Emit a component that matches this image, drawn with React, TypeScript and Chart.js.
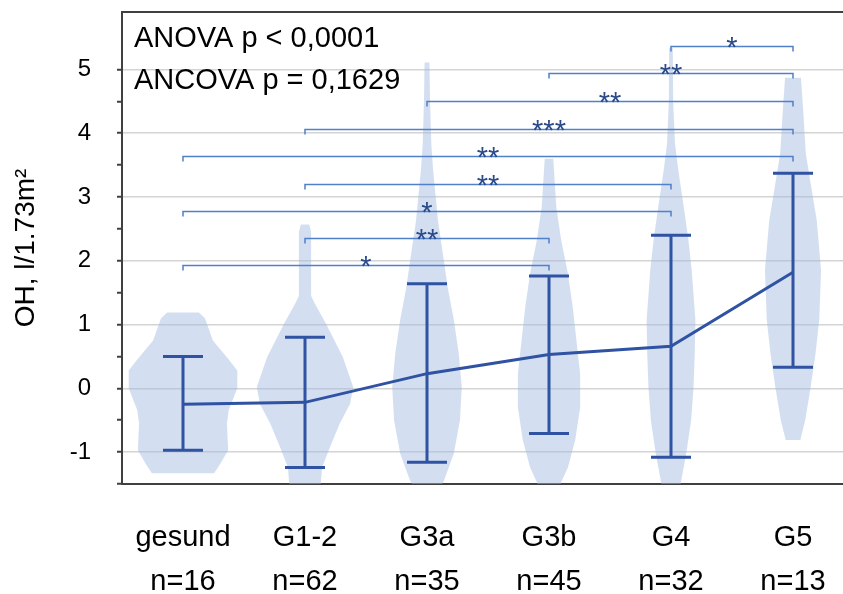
import React, { useEffect, useRef } from 'react';
import { Chart, registerables } from 'chart.js';

Chart.register(...registerables);

const FONT = "'Liberation Sans', Arial, sans-serif";

// Groups and sample sizes
const groups = ['gesund', 'G1-2', 'G3a', 'G3b', 'G4', 'G5'];
const groupSizes = ['n=16', 'n=62', 'n=35', 'n=45', 'n=32', 'n=13'];

// Mean and error bar limits per group (l/1.73m²)
const means = [-0.25, -0.22, 0.23, 0.53, 0.66, 1.82];
const upper = [0.5, 0.8, 1.64, 1.76, 2.4, 3.37];
const lower = [-0.97, -1.24, -1.16, -0.71, -1.08, 0.33];

// Violin density profiles: [value, relative density], from top to bottom
const densityGesund = [
  [1.19, 0.26], [1.1, 0.36], [0.75, 0.49], [0.45, 0.75], [0.28, 0.89], [0.0, 0.89],
  [-0.34, 0.75], [-0.55, 0.72], [-0.97, 0.74], [-1.17, 0.62], [-1.33, 0.51],
];
const densityG12 = [
  [2.57, 0.07], [2.45, 0.1], [1.45, 0.1], [1.33, 0.16], [1.02, 0.34], [0.49, 0.62],
  [0.02, 0.79], [-0.24, 0.74], [-0.55, 0.57], [-0.92, 0.41], [-1.24, 0.28], [-1.6, 0.25],
];
const densityG3a = [
  [5.11, 0.04], [4.5, 0.05], [3.84, 0.07], [3.42, 0.1], [2.63, 0.18], [2.11, 0.26],
  [1.58, 0.34], [1.07, 0.44], [0.55, 0.52], [0.02, 0.57], [-0.5, 0.54], [-1.02, 0.44],
  [-1.44, 0.28], [-1.6, 0.2],
];
const densityG3b = [
  [3.6, 0.07], [2.84, 0.12], [2.32, 0.2], [1.8, 0.31], [1.27, 0.39], [0.75, 0.45],
  [0.23, 0.51], [-0.3, 0.51], [-0.81, 0.43], [-1.24, 0.31], [-1.47, 0.2], [-1.6, 0.17],
];
const densityG4 = [
  [5.34, 0.03], [4.5, 0.035], [3.84, 0.065], [3.42, 0.12], [2.9, 0.2], [2.37, 0.28],
  [1.85, 0.34], [1.07, 0.4], [0.55, 0.39], [0.02, 0.37], [-0.5, 0.33], [-1.02, 0.25],
  [-1.49, 0.16], [-1.6, 0.16],
];
const densityG5 = [
  [4.87, 0.13], [4.46, 0.16], [3.68, 0.21], [3.15, 0.3], [2.63, 0.39], [1.85, 0.46],
  [1.07, 0.43], [0.55, 0.37], [0.02, 0.29], [-0.5, 0.2], [-0.81, 0.12],
];
const densities = [densityGesund, densityG12, densityG3a, densityG3b, densityG4, densityG5];

// Pairwise comparisons: group indices, bracket height (value) and significance
const bracketFrom = [0, 1, 0, 1, 0, 1, 2, 3, 4];
const bracketTo = [3, 3, 4, 4, 5, 5, 5, 5, 5];
const bracketLevel = [1.93, 2.35, 2.78, 3.21, 3.65, 4.07, 4.51, 4.94, 5.37];
const bracketStars = ['*', '**', '*', '**', '**', '***', '**', '**', '*'];

const statLines = ['ANOVA p < 0,0001', 'ANCOVA p = 0,1629'];

const yTitle = 'OH, l/1.73m²';

const violinPlugin = {
  id: 'violins',
  beforeDatasetsDraw(chart: any) {
    const { ctx, chartArea, scales } = chart;
    const x = scales.x;
    const y = scales.y;
    const band = x.getPixelForValue(1) - x.getPixelForValue(0);
    const half = band / 2;
    ctx.save();
    ctx.beginPath();
    ctx.rect(chartArea.left, chartArea.top, chartArea.right - chartArea.left, chartArea.bottom - chartArea.top);
    ctx.clip();
    ctx.fillStyle = 'rgba(160,185,225,0.46)';
    densities.forEach((profile, i) => {
      const cx = x.getPixelForValue(i);
      ctx.beginPath();
      profile.forEach(([v, d], k) => {
        const px = cx + d * half;
        const py = y.getPixelForValue(v);
        if (k === 0) ctx.moveTo(px, py);
        else ctx.lineTo(px, py);
      });
      for (let k = profile.length - 1; k >= 0; k--) {
        const [v, d] = profile[k];
        ctx.lineTo(cx - d * half, y.getPixelForValue(v));
      }
      ctx.closePath();
      ctx.fill();
    });
    ctx.restore();
  },
};

const overlayPlugin = {
  id: 'overlay',
  afterDatasetsDraw(chart: any) {
    const { ctx, chartArea, scales } = chart;
    const x = scales.x;
    const y = scales.y;
    ctx.save();

    // error bars
    ctx.strokeStyle = '#2f52a3';
    ctx.lineWidth = 3;
    ctx.lineCap = 'butt';
    const capHalf = 20;
    groups.forEach((_, i) => {
      const cx = x.getPixelForValue(i);
      const yu = y.getPixelForValue(upper[i]);
      const yl = y.getPixelForValue(lower[i]);
      ctx.beginPath();
      ctx.moveTo(cx, yu);
      ctx.lineTo(cx, yl);
      ctx.moveTo(cx - capHalf, yu);
      ctx.lineTo(cx + capHalf, yu);
      ctx.moveTo(cx - capHalf, yl);
      ctx.lineTo(cx + capHalf, yl);
      ctx.stroke();
    });

    // significance brackets
    ctx.strokeStyle = '#4f80c9';
    ctx.lineWidth = 1.5;
    ctx.fillStyle = '#2b4a8a';
    ctx.font = `29px ${FONT}`;
    ctx.textAlign = 'center';
    ctx.textBaseline = 'alphabetic';
    bracketLevel.forEach((lvl, k) => {
      const x1 = x.getPixelForValue(bracketFrom[k]);
      const x2 = x.getPixelForValue(bracketTo[k]);
      const py = Math.round(y.getPixelForValue(lvl)) + 0.5;
      ctx.beginPath();
      ctx.moveTo(x1, py + 5);
      ctx.lineTo(x1, py);
      ctx.lineTo(x2, py);
      ctx.lineTo(x2, py + 5);
      ctx.stroke();
      ctx.fillText(bracketStars[k], (x1 + x2) / 2, py + 10);
    });

    // statistics text
    ctx.fillStyle = '#000';
    ctx.textAlign = 'left';
    statLines.forEach((t, k) => {
      ctx.fillText(t, chartArea.left + 12, chartArea.top + 35 + k * 42);
    });

    // top frame line
    ctx.strokeStyle = '#404040';
    ctx.lineWidth = 2;
    ctx.beginPath();
    ctx.moveTo(chartArea.left - 1, chartArea.top);
    ctx.lineTo(chart.width, chartArea.top);
    ctx.stroke();

    ctx.restore();
  },
};

export default function App() {
  const ref = useRef<HTMLCanvasElement>(null);

  useEffect(() => {
    const canvas = ref.current;
    if (!canvas) return;
    const chart = new Chart(canvas, {
      type: 'line',
      data: {
        labels: groups.map((g, i) => [g, groupSizes[i]]),
        datasets: [
          {
            data: means,
            borderColor: '#2f52a3',
            borderWidth: 3,
            pointRadius: 0,
            fill: false,
            tension: 0,
          },
        ],
      },
      options: {
        responsive: false,
        animation: false,
        devicePixelRatio: 1,
        layout: { padding: { top: 12, left: 0, right: 0, bottom: 0 } },
        plugins: {
          legend: { display: false },
          tooltip: { enabled: false },
        },
        scales: {
          x: {
            offset: true,
            afterFit: (s: any) => {
              s.height = 110;
              s.paddingLeft = 0;
              s.paddingRight = 0;
            },
            grid: { drawOnChartArea: false, drawTicks: false },
            border: { color: '#404040', width: 2 },
            ticks: {
              color: '#000',
              padding: 32,
              maxRotation: 0,
              autoSkip: false,
              font: { family: FONT, size: 29, lineHeight: 44 / 29 },
            },
          },
          y: {
            min: -1.5,
            max: 5.9,
            afterFit: (s: any) => {
              s.width = 122;
              s.paddingTop = 0;
              s.paddingBottom = 0;
            },
            afterBuildTicks: (s: any) => {
              s.ticks = s.ticks.filter((t: any) => Math.abs(t.value * 2 - Math.round(t.value * 2)) < 1e-6);
            },
            ticks: {
              stepSize: 0.5,
              padding: 26,
              color: '#000',
              font: { family: FONT, size: 24 },
              callback: (v: any) => (Number.isInteger(v) ? String(v) : ''),
            },
            grid: {
              color: (c: any) =>
                c.tick && Number.isInteger(c.tick.value) && c.tick.value > -1.5 ? '#d4d4d4' : 'rgba(0,0,0,0)',
              lineWidth: 1.5,
              tickColor: '#404040',
              tickLength: 5,
              tickWidth: 2,
            },
            border: { color: '#404040', width: 2 },
            title: {
              display: true,
              text: yTitle,
              color: '#000',
              font: { family: FONT, size: 28, lineHeight: 1.2 },
              padding: { top: 9, bottom: 0 },
            },
          },
        },
      },
      plugins: [violinPlugin, overlayPlugin],
    } as any);
    return () => chart.destroy();
  }, []);

  return (
    <div
      style={{
        position: 'fixed',
        left: 0,
        top: 0,
        width: 843,
        height: 594,
        overflow: 'hidden',
        background: '#fff',
      }}
    >
      <canvas ref={ref} width={854} height={594} style={{ display: 'block' }} />
    </div>
  );
}
